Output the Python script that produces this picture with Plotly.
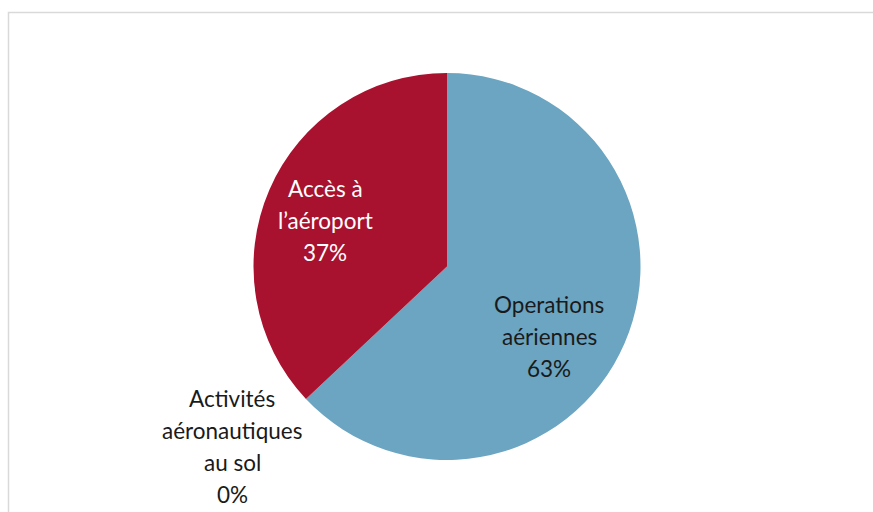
import plotly.graph_objects as go

# Data
categories = ["Operations aériennes", "Activités aéronautiques au sol", "Accès à l’aéroport"]
label_lines = [["Operations", "aériennes"], ["Activités", "aéronautiques", "au sol"], ["Accès à", "l’aéroport"]]
values = [63, 0, 37]
percent_labels = ["63%", "0%", "37%"]
colors = ["#6BA5C1", "#7F7F7F", "#A8122F"]

W, H = 873, 512
cx, cy, r = 447, 266.5, 193.5

fig = go.Figure(go.Pie(
    labels=categories,
    values=values,
    sort=False,
    direction="clockwise",
    rotation=0,
    marker=dict(colors=colors, line=dict(width=0)),
    textinfo="none",
    hoverinfo="label+percent",
    showlegend=False,
    domain=dict(x=[(cx - r) / W, (cx + r) / W], y=[(H - cy - r) / H, (H - cy + r) / H]),
))

# label placement (pixel centers of first line) and text colours
label_pos = [(549, 304), (232, 398), (325, 188)]
text_colors = ["#1A1A1A", "#1A1A1A", "#FFFFFF"]
line_gap = 32

annotations = []
for lines, pct, (px, py), tc in zip(label_lines, percent_labels, label_pos, text_colors):
    all_lines = lines + [pct]
    for i, t in enumerate(all_lines):
        y = py + i * line_gap
        annotations.append(dict(
            x=px / W, y=1 - y / H, xref="paper", yref="paper",
            text=t, showarrow=False, xanchor="center", yanchor="middle",
            font=dict(family="Lato, 'Open Sans', sans-serif", size=22.5, color=tc),
        ))

fig.update_layout(
    width=W, height=H,
    margin=dict(l=0, r=0, t=0, b=0),
    paper_bgcolor="white",
    plot_bgcolor="white",
    annotations=annotations,
    shapes=[dict(type="rect", xref="paper", yref="paper",
                 x0=8.5 / W, x1=1.02, y0=-0.02, y1=1 - 12.5 / H,
                 line=dict(color="#D9D9D9", width=1.5), fillcolor="rgba(0,0,0,0)")],
)

fig.write_html(
    "out.html",
    config={"displayModeBar": False},
    post_script="document.body.style.margin='0';document.body.style.overflow='hidden';",
)
